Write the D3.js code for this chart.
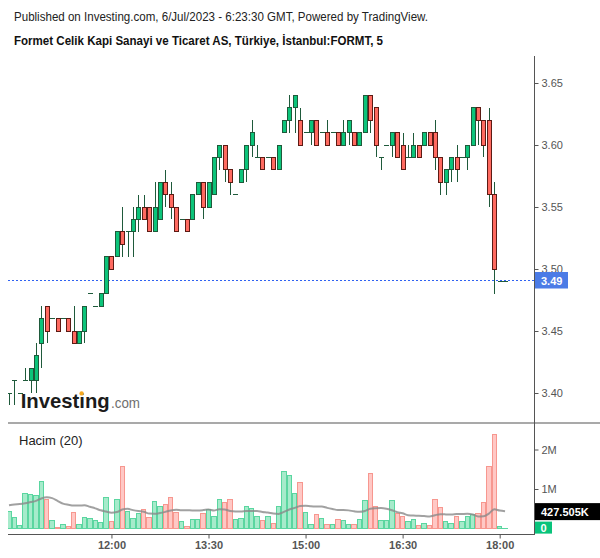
<!DOCTYPE html>
<html><head><meta charset="utf-8">
<script src="https://cdn.jsdelivr.net/npm/d3@7"></script>
<style>body{margin:0;background:#fff}svg{display:block}</style>
</head><body>
<svg id="c" width="600" height="558"></svg>
<script>
// ---- data (5-minute bars, FORMT, 6 Jul 2023) ----
const startTime = "10:25";
const opens  = [3.40,3.41,3.40,3.41,3.41,3.41,3.44,3.47,3.46,3.46,3.46,3.46,3.45,3.44,3.45,3.48,3.47,3.47,3.48,3.51,
                3.51,3.53,3.53,3.53,3.54,3.55,3.55,3.53,3.54,3.57,3.56,3.55,3.54,3.54,3.54,3.56,3.57,3.55,3.56,3.59,
                3.60,3.58,3.56,3.57,3.58,3.60,3.59,3.59,3.59,3.59,3.58,3.61,3.62,3.63,3.62,3.61,3.61,3.62,3.61,3.61,
                3.61,3.61,3.60,3.61,3.61,3.60,3.61,3.64,3.63,3.59,3.60,3.60,3.61,3.60,3.59,3.59,3.60,3.60,3.61,3.61,
                3.59,3.57,3.58,3.59,3.59,3.59,3.60,3.63,3.62,3.62,3.56,3.49,3.49];
const highs  = [3.40,3.41,3.40,3.42,3.42,3.44,3.47,3.47,3.46,3.46,3.46,3.46,3.47,3.45,3.47,3.48,3.47,3.48,3.51,3.51,
                3.53,3.55,3.53,3.55,3.56,3.56,3.55,3.57,3.57,3.58,3.57,3.55,3.54,3.54,3.56,3.57,3.57,3.57,3.59,3.60,
                3.60,3.58,3.56,3.58,3.60,3.62,3.60,3.59,3.59,3.59,3.60,3.62,3.64,3.64,3.63,3.61,3.62,3.62,3.61,3.62,
                3.61,3.61,3.62,3.62,3.61,3.61,3.64,3.64,3.63,3.59,3.60,3.61,3.61,3.61,3.60,3.61,3.60,3.61,3.61,3.62,
                3.59,3.58,3.59,3.60,3.59,3.60,3.63,3.63,3.62,3.63,3.57,3.49,3.49];
const lows   = [3.39,3.39,3.40,3.41,3.40,3.40,3.42,3.44,3.46,3.45,3.46,3.45,3.44,3.44,3.44,3.48,3.47,3.47,3.48,3.50,
                3.51,3.51,3.51,3.51,3.53,3.54,3.53,3.53,3.54,3.55,3.54,3.53,3.54,3.53,3.54,3.56,3.54,3.55,3.56,3.58,
                3.57,3.56,3.56,3.57,3.57,3.59,3.59,3.58,3.59,3.58,3.58,3.61,3.61,3.61,3.60,3.61,3.60,3.60,3.61,3.60,
                3.61,3.60,3.60,3.60,3.60,3.60,3.61,3.61,3.59,3.58,3.60,3.59,3.59,3.58,3.59,3.59,3.59,3.60,3.60,3.58,
                3.56,3.56,3.57,3.57,3.59,3.58,3.60,3.60,3.59,3.55,3.48,3.49,3.49];
const closes = [3.40,3.41,3.40,3.41,3.42,3.43,3.46,3.45,3.46,3.45,3.46,3.45,3.44,3.45,3.47,3.48,3.47,3.48,3.51,3.50,
                3.53,3.52,3.53,3.54,3.55,3.54,3.53,3.55,3.57,3.56,3.55,3.53,3.54,3.53,3.56,3.57,3.55,3.57,3.59,3.60,
                3.58,3.57,3.56,3.58,3.60,3.61,3.59,3.58,3.59,3.58,3.60,3.62,3.63,3.64,3.60,3.61,3.62,3.60,3.61,3.60,
                3.61,3.60,3.61,3.62,3.60,3.61,3.64,3.62,3.60,3.59,3.60,3.61,3.59,3.58,3.59,3.60,3.59,3.61,3.60,3.59,
                3.57,3.58,3.59,3.58,3.59,3.60,3.63,3.62,3.60,3.56,3.50,3.49,3.49];
// volume in millions of shares
const volumes = [0.43,0.28,0.08,0.89,0.86,0.84,1.20,0.74,0.20,0.03,0.09,0.05,0.40,0.09,0.27,0.25,0.20,0.15,0.79,0.17,
                 0.73,1.56,0.43,0.25,0.38,0.49,0.28,0.68,0.56,0.61,0.79,0.40,0.17,0.05,0.22,0.22,0.38,0.49,0.30,0.74,
                 0.66,0.74,0.22,0.25,0.56,0.50,0.30,0.20,0.30,0.12,0.56,1.45,1.35,0.89,1.17,0.40,0.09,0.35,0.25,0.09,
                 0.09,0.22,0.20,0.09,0.09,0.22,0.71,1.38,0.56,0.20,0.20,0.71,0.38,0.30,0.17,0.22,0.08,0.12,0.07,0.74,
                 0.54,0.17,0.12,0.30,0.17,0.30,0.35,0.38,0.66,1.56,2.38,0.05,0.01];
// Volume MA(20) for bars whose 20-bar window starts before the visible data
const volMaHead = [0.59,0.61,0.62,0.64,0.67,0.70,0.76,0.79,0.77,0.70,0.63,0.60,0.58,0.58,0.59,0.55,0.51,0.46,0.43];
const maPeriod = 20;
const priceTicks = [3.40,3.45,3.50,3.55,3.60,3.65];
const volTicks = [1,2];
const timeTickLabels = ["12:00","13:30","15:00","16:30","18:00"];
const lastPrice = 3.49;
const lastVolMaText = "427.505K";
const lastVolMaValue = 0.427505;
const title1 = "Published on Investing.com, 6/Jul/2023 - 6:23:30 GMT, Powered by TradingView.";
const title2 = "Formet Celik Kapi Sanayi ve Ticaret AS, Türkiye, İstanbul:FORMT, 5";
const volTitle = "Hacim (20)";

// ---- derived ----
const n = closes.length;
const parse = d3.timeParse("%H:%M"), fmt = d3.timeFormat("%H:%M");
const t0 = parse(startTime);
const times = d3.range(n).map(i => fmt(d3.timeMinute.offset(t0, 5 * i)));
const ma = volumes.map((v, i) => i < maPeriod - 1 ? volMaHead[i] : d3.mean(volumes.slice(i - maPeriod + 1, i + 1)));

// ---- layout ----
const W = 600, H = 558;
const plotL = 8, plotR = 534, plotT = 56, priceB = 423, volB = 534;
const step = 5.392;
const x = d3.scaleLinear().domain([0, n - 1]).range([9, 9 + (n - 1) * step]);
const y = d3.scaleLinear().domain([3.40, 3.65]).range([393, 83]);
const yv = d3.scaleLinear().domain([0, 2]).range([528.5, 449.5]);

const svg = d3.select("#c");
const FONT = "'Liberation Sans', Arial, sans-serif";
svg.append("rect").attr("width", W).attr("height", H).attr("fill", "#fff");

svg.append("defs").append("clipPath").attr("id", "clip")
  .append("rect").attr("x", plotL).attr("y", plotT).attr("width", plotR - plotL).attr("height", volB - plotT);

// titles
svg.append("text").attr("x", 14).attr("y", 20.5).attr("font-family", FONT).attr("font-size", 12.5)
  .attr("fill", "#222").attr("textLength", 414).attr("lengthAdjust", "spacingAndGlyphs").text(title1);
svg.append("text").attr("x", 14).attr("y", 44.5).attr("font-family", FONT).attr("font-size", 13)
  .attr("font-weight", "bold").attr("fill", "#111").attr("textLength", 369).attr("lengthAdjust", "spacingAndGlyphs").text(title2);

// logo
const logo = svg.append("g");
logo.append("text").attr("x", 20.7).attr("y", 408).attr("font-family", FONT).attr("font-size", 21)
  .attr("font-weight", "bold").attr("fill", "#1b1b1b").attr("textLength", 89).attr("lengthAdjust", "spacingAndGlyphs").text("Investing");
logo.append("text").attr("x", 111).attr("y", 408).attr("font-family", FONT).attr("font-size", 14)
  .attr("fill", "#6e6e6e").attr("textLength", 29).attr("lengthAdjust", "spacingAndGlyphs").text(".com");
logo.append("circle").attr("cx", 81.6).attr("cy", 393.4).attr("r", 2.2).attr("fill", "#f6a821");

const g = svg.append("g").attr("clip-path", "url(#clip)");

// volume bars
const vg = g.append("g").attr("shape-rendering", "crispEdges");
vg.selectAll("rect").data(volumes).join("rect")
  .attr("x", (d, i) => x(i) - step / 2 + 0.5)
  .attr("width", step - 1)
  .attr("y", d => yv(d))
  .attr("height", d => Math.max(0.5, yv(0) - yv(d)))
  .attr("fill", (d, i) => closes[i] >= opens[i] ? "#a6ebcb" : "#ffc8c5")
  .attr("stroke", (d, i) => closes[i] >= opens[i] ? "#5ad6a0" : "#f7978f")
  .attr("stroke-width", 1);

// volume MA
g.append("path").datum(ma)
  .attr("d", d3.line().x((d, i) => x(i)).y(d => yv(d)).curve(d3.curveMonotoneX))
  .attr("fill", "none").attr("stroke", "#8a8a8a").attr("stroke-opacity", 0.8).attr("stroke-width", 2);

// last price line (under candles)
const lpY = Math.round(y(lastPrice)) - 0.5;
svg.append("line").attr("x1", plotL).attr("x2", plotR).attr("y1", lpY).attr("y2", lpY)
  .attr("stroke", "#2f62f2").attr("stroke-width", 1).attr("stroke-dasharray", "2,2")
  .attr("shape-rendering", "crispEdges");

// candles
const cg = svg.append("g").attr("clip-path", "url(#clip)").attr("shape-rendering", "crispEdges");
const idx = d3.range(n);
const wick = "#1f5a3b";
cg.selectAll("line.w").data(idx.filter(i => highs[i] > lows[i])).join("line").attr("class", "w")
  .attr("x1", i => Math.round(x(i)) + 0.5).attr("x2", i => Math.round(x(i)) + 0.5)
  .attr("y1", i => y(highs[i])).attr("y2", i => y(lows[i]))
  .attr("stroke", wick).attr("stroke-width", 1);
cg.selectAll("rect.b").data(idx.filter(i => opens[i] !== closes[i])).join("rect").attr("class", "b")
  .attr("x", i => Math.round(x(i)) + 0.5 - 2)
  .attr("width", 4)
  .attr("y", i => y(Math.max(opens[i], closes[i])))
  .attr("height", i => y(Math.min(opens[i], closes[i])) - y(Math.max(opens[i], closes[i])))
  .attr("fill", i => closes[i] > opens[i] ? "#0cc47a" : "#ff6a60")
  .attr("stroke", i => closes[i] > opens[i] ? "#1f5a3b" : "#5c1b14")
  .attr("stroke-width", 1);
cg.selectAll("line.d").data(idx.filter(i => opens[i] === closes[i])).join("line").attr("class", "d")
  .attr("x1", i => Math.round(x(i)) + 0.5 - 2.5).attr("x2", i => Math.round(x(i)) + 0.5 + 2.5)
  .attr("y1", i => y(closes[i])).attr("y2", i => y(closes[i]))
  .attr("stroke", wick).attr("stroke-width", 1);

// frame lines
svg.append("line").attr("x1", plotR + 0.5).attr("x2", plotR + 0.5).attr("y1", plotT).attr("y2", volB)
  .attr("stroke", "#555").attr("stroke-width", 1);
svg.append("line").attr("x1", plotL).attr("x2", W).attr("y1", priceB).attr("y2", priceB)
  .attr("stroke", "#555").attr("stroke-width", 1.2);
svg.append("line").attr("x1", plotL).attr("x2", plotR + 1).attr("y1", volB + 0.5).attr("y2", volB + 0.5)
  .attr("stroke", "#555").attr("stroke-width", 1);

// price axis
const pa = svg.append("g").attr("transform", `translate(${plotR + 0.5},0)`)
  .call(d3.axisRight(y).tickValues(priceTicks).tickFormat(d3.format(".2f")).tickSize(4).tickPadding(3));
pa.select(".domain").remove();
pa.selectAll("line").attr("stroke", "#555");
pa.selectAll("text").attr("font-family", FONT).attr("font-size", 11).attr("fill", "#555");

// volume axis
const va = svg.append("g").attr("transform", `translate(${plotR + 0.5},0)`)
  .call(d3.axisRight(yv).tickValues(volTicks).tickFormat(d => d + "M").tickSize(4).tickPadding(3));
va.select(".domain").remove();
va.selectAll("line").attr("stroke", "#555");
va.selectAll("text").attr("font-family", FONT).attr("font-size", 11).attr("fill", "#555");

// time axis
const tickIdx = timeTickLabels.map(l => times.indexOf(l)).filter(i => i >= 0);
const ta = svg.append("g").attr("transform", `translate(0,${volB + 0.5})`)
  .call(d3.axisBottom(x).tickValues(tickIdx).tickFormat(i => times[i]).tickSize(4).tickPadding(3));
ta.select(".domain").remove();
ta.selectAll("line").attr("stroke", "#555");
ta.selectAll("text").attr("font-family", FONT).attr("font-size", 11).attr("font-weight", "bold").attr("fill", "#555");

// volume title
svg.append("text").attr("x", 19).attr("y", 444.5).attr("font-family", FONT).attr("font-size", 13)
  .attr("fill", "#222").text(volTitle);

// last price label
svg.append("rect").attr("x", plotR + 1).attr("y", lpY - 8.5).attr("width", 33).attr("height", 16.5).attr("fill", "#4b7be6");
svg.append("text").attr("x", plotR + 7).attr("y", lpY + 4).attr("font-family", FONT).attr("font-size", 11)
  .attr("font-weight", "bold").attr("fill", "#fff").text(d3.format(".2f")(lastPrice));

// last volume MA label
const lmY = yv(lastVolMaValue);
svg.append("rect").attr("x", plotR + 1).attr("y", lmY - 8.5).attr("width", W - plotR - 1).attr("height", 17).attr("fill", "#000");
svg.append("text").attr("x", plotR + 7).attr("y", lmY + 4).attr("font-family", FONT).attr("font-size", 11)
  .attr("font-weight", "bold").attr("fill", "#fff").text(lastVolMaText);

// last volume label
const lvY = yv(volumes[n - 1]);
svg.append("rect").attr("x", plotR + 1).attr("y", lvY - 6.5).attr("width", 17).attr("height", 12).attr("fill", "#09c37b");
svg.append("text").attr("x", plotR + 6.5).attr("y", lvY + 4).attr("font-family", FONT).attr("font-size", 11)
  .attr("font-weight", "bold").attr("fill", "#fff").text("0");
</script>
</body></html>
